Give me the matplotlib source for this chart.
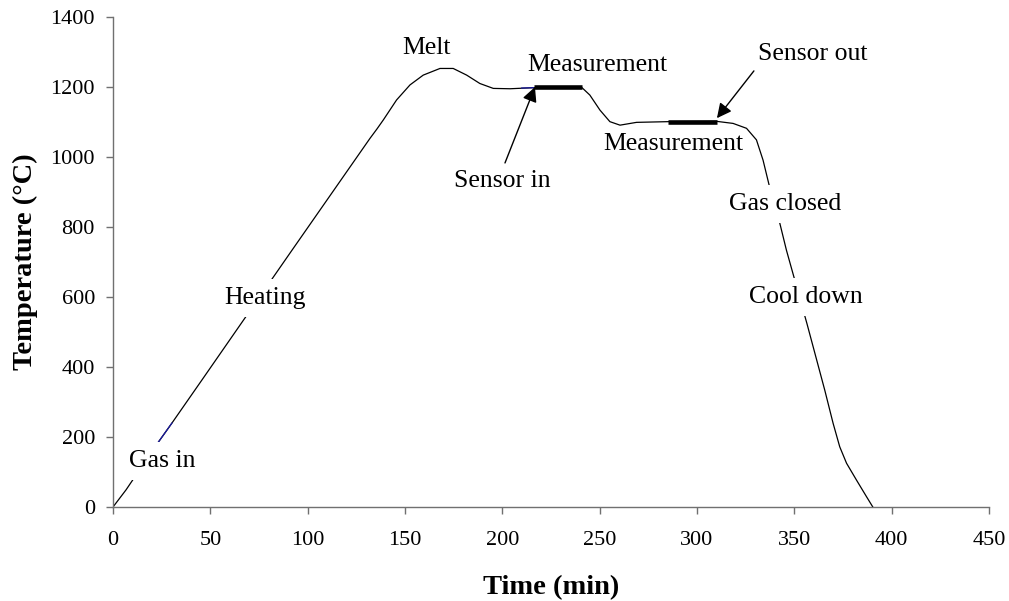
import matplotlib
matplotlib.use("Agg")
import matplotlib.pyplot as plt

# ---- data ----
time_min = [0, 6.7, 23, 30.3, 45.7, 92, 132, 135.6, 138.9, 145.7, 152.6, 159.4,
            168, 174.8, 181.7, 188.5, 195.4, 204, 215.7, 240.8, 245, 250.2,
            255.3, 260.5, 269, 285.2, 310, 318.6, 325.5, 330.6, 334, 337.5,
            342.6, 346, 356.6, 365.7, 370, 373.4, 376.9, 382, 387.1, 390.4]
temp_c = [0, 49, 183, 240, 363, 734, 1053, 1080, 1106, 1163, 1206, 1234,
          1253, 1253, 1234, 1210, 1196, 1195, 1198, 1199, 1177, 1134,
          1101, 1091, 1099, 1101, 1102, 1096, 1082, 1049, 991, 911,
          811, 734, 523, 334, 239, 172, 125, 77, 30, 0]

# highlighted (blue) pieces of the record
blue1_t = [23, 30.3]
blue1_y = [183, 240]
blue2_t = [210, 216]
blue2_y = [1197, 1198]

# measurement windows (thick bars)
meas_t = [[216.2, 240.8], [285.2, 310.3]]
meas_y = [1199, 1101]

x_ticks = [0, 50, 100, 150, 200, 250, 300, 350, 400, 450]
y_ticks = [0, 200, 400, 600, 800, 1000, 1200, 1400]

# labels: (text, x, y)
labels = [("Melt", 161.3, 1311), ("Measurement", 248.6, 1263),
          ("Sensor out", 359.6, 1294), ("Measurement", 287.7, 1037),
          ("Sensor in", 199.8, 931)]
boxed_labels = [("Heating", 78, 597), ("Gas in", 25.2, 131),
                ("Cool down", 356, 600), ("Gas closed", 345.2, 866)]
arrows = [((201.4, 983), (216.8, 1200)), ((329.3, 1246), (310.3, 1111))]

plt.rcParams['font.family'] = ['Liberation Serif', 'DejaVu Serif']

fig = plt.figure(figsize=(10.09, 6.01), dpi=100)
ax = fig.add_axes([0.112, 0.1564, 0.868, 0.8153])

ax.plot(time_min, temp_c, color='black', lw=0.9, zorder=2,
        solid_joinstyle='round')
ax.plot(blue1_t, blue1_y, color='#1a1aa0', lw=0.9, zorder=3)
ax.plot(blue2_t, blue2_y, color='#1a1aa0', lw=0.9, zorder=3)
for t, y in zip(meas_t, meas_y):
    ax.plot(t, [y, y], color='black', lw=3.3, solid_capstyle='butt', zorder=4)

for txt, x, y in labels:
    ax.text(x, y, txt, ha='center', va='center', fontsize=18.5, zorder=6)
for txt, x, y in boxed_labels:
    ax.text(x, y, txt, ha='center', va='center', fontsize=18.5, zorder=6,
            bbox=dict(boxstyle='square,pad=0.3', fc='white', ec='none'))
for tail, tip in arrows:
    ax.annotate('', xy=tip, xytext=tail,
                arrowprops=dict(arrowstyle='-|>', color='black', lw=1.0,
                                mutation_scale=22, shrinkA=0, shrinkB=0),
                zorder=7)

ax.set_xlim(0, 450)
ax.set_ylim(0, 1400)
ax.set_xticks(x_ticks)
ax.set_yticks(y_ticks)
for s in ['top', 'right']:
    ax.spines[s].set_visible(False)
for s in ['left', 'bottom']:
    ax.spines[s].set_color('#707070')
    ax.spines[s].set_linewidth(1.0)
ax.tick_params(axis='x', direction='out', length=5, width=1, color='#707070',
               pad=12, labelsize=16)
ax.tick_params(axis='y', direction='out', length=5, width=1, color='#707070',
               pad=8, labelsize=16)
ax.set_xlabel('Time (min)', fontsize=20.5, fontweight='bold', labelpad=18)
ax.set_ylabel('Temperature (°C)', fontsize=20.5, fontweight='bold', labelpad=9)

fig.savefig('out.png', dpi=100)
